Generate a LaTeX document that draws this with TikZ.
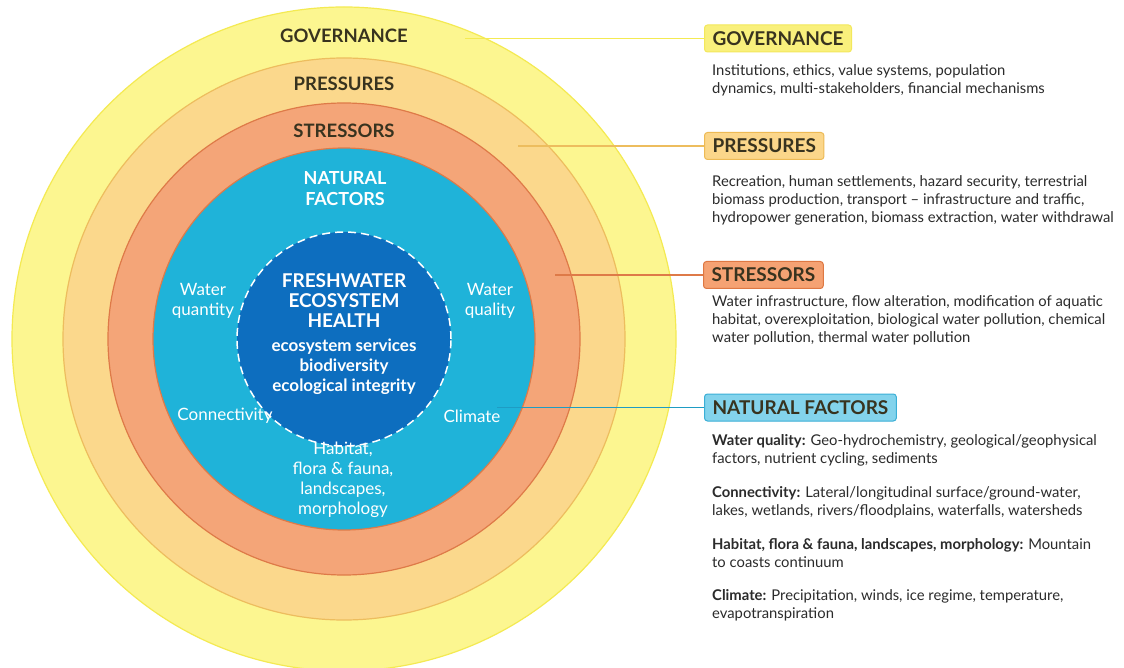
\documentclass[tikz,border=0pt]{standalone}
\usepackage{fontspec}
\setmainfont{Lato}
\definecolor{govfill}{HTML}{FCF690}
\definecolor{govline}{HTML}{F4EA52}
\definecolor{presfill}{HTML}{FBD88C}
\definecolor{presline}{HTML}{EDBD5E}
\definecolor{strfill}{HTML}{F4A578}
\definecolor{strline}{HTML}{DE7A48}
\definecolor{natfill}{HTML}{1FB3D9}
\definecolor{natline}{HTML}{1E9CC4}
\definecolor{corefill}{HTML}{0D6EBF}
\definecolor{titletext}{HTML}{38331F}
\definecolor{bodytext}{HTML}{2B2B2B}
\definecolor{govbox}{HTML}{F9F07C}
\definecolor{govboxline}{HTML}{F3E85C}
\definecolor{presbox}{HTML}{FBD68A}
\definecolor{presboxline}{HTML}{EDBA55}
\definecolor{strbox}{HTML}{F5A273}
\definecolor{strboxline}{HTML}{DE7843}
\definecolor{natbox}{HTML}{83D3EC}
\definecolor{natboxline}{HTML}{3BAFD6}
\begin{document}
\begin{tikzpicture}[x=1pt,y=-1pt,
  ring/.style={circle, inner sep=0pt, line width=1.2pt},
  ringttl/.style={font=\bfseries\fontsize{18.5}{20}\selectfont, text=titletext},
  whitettl/.style={font=\bfseries\fontsize{18}{21}\selectfont, text=white, align=center},
  whitelbl/.style={font=\fontsize{17}{20}\selectfont, text=white, align=center},
  tbox/.style={rounded corners=3pt, inner xsep=8pt, inner ysep=0pt, minimum height=27pt, anchor=west, line width=1pt, font=\bfseries\fontsize{19}{20}\selectfont, text=titletext},
  desc/.style={anchor=base west, align=left, inner sep=0pt, font=\fontsize{14.8}{18}\selectfont, text=bodytext},
  conn/.style={line width=1.3pt}]
\useasboundingbox (0,0) rectangle (1124,668);
\fill[white] (0,0) rectangle (1124,668);
% rings
\node[ring, fill=govfill, draw=govline, minimum size=664pt] (govring) at (344,339) {};
\node[ring, fill=presfill, draw=presline, minimum size=562pt] (presring) at (344,339) {};
\node[ring, fill=strfill, draw=strline, minimum size=472pt] (strring) at (344,339) {};
\node[ring, fill=natfill, draw=strline, minimum size=382pt] (natring) at (344,339) {};
\node[ring, fill=corefill, draw=white, line width=1.5pt, dash pattern=on 8pt off 5pt, minimum size=214pt] (core) at (344,339) {};
% ring labels
\node[ringttl] (govlbl) at (344,36) {GOVERNANCE};
\node[ringttl] (preslbl) at (344,84) {PRESSURES};
\node[ringttl] (strlbl) at (344,131) {STRESSORS};
\node[whitettl] (natlbl) at (345,189) {NATURAL\\FACTORS};
\node[font=\bfseries\fontsize{19}{20}\selectfont, text=white, align=center] (coretitle) at (344,301) {FRESHWATER\\ECOSYSTEM\\HEALTH};
\node[font=\bfseries\fontsize{17}{20}\selectfont, text=white, align=center] (coresub) at (344,367) {ecosystem services\\biodiversity\\ecological integrity};
\node[whitelbl] (wquant) at (203,301) {Water\\quantity};
\node[whitelbl] (wqual) at (490,301) {Water\\quality};
\node[whitelbl] (conn) at (225,416) {Connectivity};
\node[whitelbl] (clim) at (472,416) {Climate};
\node[whitelbl] (habitat) at (343,480) {Habitat,\\flora \& fauna,\\landscapes,\\morphology};
% right boxes
\node[tbox, fill=govbox, draw=govboxline] (govbox) at (704,38.5) {GOVERNANCE};
\node[tbox, fill=presbox, draw=presboxline] (presbox) at (704,146) {PRESSURES};
\node[tbox, fill=strbox, draw=strboxline] (strbox) at (703,275) {STRESSORS};
\node[tbox, fill=natbox, draw=natboxline] (natbox) at (704,407.5) {NATURAL FACTORS};
% connectors
\coordinate (govpt) at (465,38.5);
\coordinate (prespt) at (518,146);
\coordinate (strpt) at (555,275);
\coordinate (natpt) at (497,407.5);
\draw[conn, govline] (govpt) -- (govbox.west);
\draw[conn, presline] (prespt) -- (presbox.west);
\draw[conn, strline] (strpt) -- (strbox.west);
\draw[conn, natline] (natpt) -- (natbox.west);
% descriptions (anchor at baseline of the last line)
\node[desc] (govdesc) at (712,94) {Institutions, ethics, value systems, population\\dynamics, multi-stakeholders, financial mechanisms};
\node[desc] (presdesc) at (712,223) {Recreation, human settlements, hazard security, terrestrial\\biomass production, transport -- infrastructure and traffic,\\hydropower generation, biomass extraction, water withdrawal};
\node[desc] (strdesc) at (712,342) {Water infrastructure, flow alteration, modification of aquatic\\habitat, overexploitation, biological water pollution, chemical\\water pollution, thermal water pollution};
\node[desc] (natdesc1) at (712,463) {\textbf{Water quality:} Geo-hydrochemistry, geological/geophysical\\factors, nutrient cycling, sediments};
\node[desc] (natdesc2) at (712,515) {\textbf{Connectivity:} Lateral/longitudinal surface/ground-water,\\lakes, wetlands, rivers/floodplains, waterfalls, watersheds};
\node[desc] (natdesc3) at (712,567) {\textbf{Habitat, flora \& fauna, landscapes, morphology:} Mountain\\to coasts continuum};
\node[desc] (natdesc4) at (712,618) {\textbf{Climate:} Precipitation, winds, ice regime, temperature,\\evapotranspiration};
\end{tikzpicture}
\end{document}
